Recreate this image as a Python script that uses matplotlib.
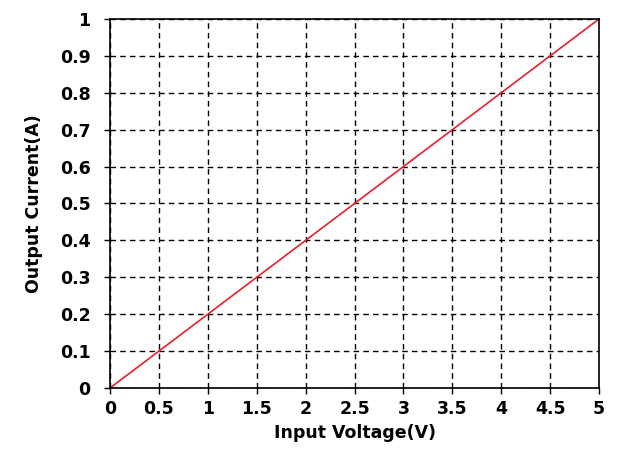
import matplotlib
matplotlib.use("Agg")
import matplotlib.pyplot as plt

voltage = [0, 0.5, 1, 1.5, 2, 2.5, 3, 3.5, 4, 4.5, 5]
current = [0, 0.1, 0.2, 0.3, 0.4, 0.5, 0.6, 0.7, 0.8, 0.9, 1.0]
x_ticks = [0, 0.5, 1, 1.5, 2, 2.5, 3, 3.5, 4, 4.5, 5]
x_labels = ['0', '0.5', '1', '1.5', '2', '2.5', '3', '3.5', '4', '4.5', '5']
y_ticks = [0, 0.1, 0.2, 0.3, 0.4, 0.5, 0.6, 0.7, 0.8, 0.9, 1]
y_labels = ['0', '0.1', '0.2', '0.3', '0.4', '0.5', '0.6', '0.7', '0.8', '0.9', '1']

fig = plt.figure(figsize=(6.23, 4.5), dpi=100)
ax = fig.add_axes([0.1766, 0.1378, 0.7849, 0.82])

ax.plot(voltage, current, color='#e8202a', linewidth=1.2)
ax.set_xlim(0, 5)
ax.set_ylim(0, 1)
ax.set_xticks(x_ticks)
ax.set_xticklabels(x_labels, fontweight='bold', fontsize=12.5)
ax.set_yticks(y_ticks)
ax.set_yticklabels(y_labels, fontweight='bold', fontsize=12.5)
ax.tick_params(axis='y', direction='out', length=4, width=1, pad=10)
ax.tick_params(axis='x', direction='out', length=4, width=1, pad=5)
ax.grid(True, color='black', linestyle=(0, (4, 3)), linewidth=1)
for s in ax.spines.values():
    s.set_linewidth(1.2)

ax.set_xlabel('Input Voltage(V)', fontweight='bold', fontsize=12.5, labelpad=4)
ax.set_ylabel('Output Current(A)', fontweight='bold', fontsize=12.5, labelpad=12)

fig.savefig('out.png', dpi=100)
